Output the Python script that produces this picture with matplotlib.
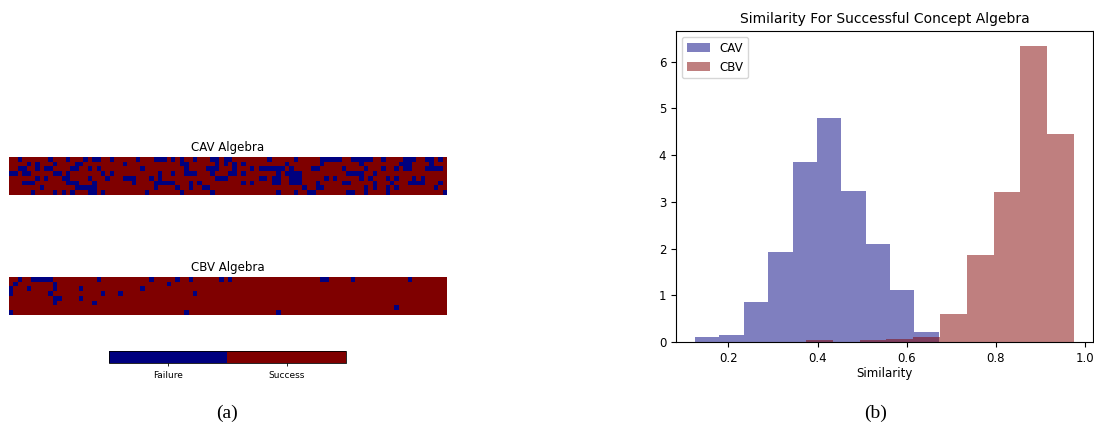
import numpy as np
import matplotlib
matplotlib.use("Agg")
import matplotlib.pyplot as plt
from matplotlib.colors import ListedColormap

# grid size of the success/failure maps
N_ROWS = 8
N_COLS = 100

# failure positions (column indices) per row
cav_failures = [
    [2, 9, 13, 17, 19, 20, 23, 29, 33, 34, 35, 37, 39, 42, 46, 47, 49, 50, 59, 65, 71, 72, 73, 74, 75,
     78, 79, 80, 81, 82, 85, 90, 91, 92, 95, 96, 98],
    [4, 6, 10, 15, 16, 26, 39, 40, 47, 49, 51, 53, 63, 71, 80, 89, 90, 91, 96],
    [2, 3, 6, 8, 9, 14, 15, 18, 20, 30, 40, 45, 46, 47, 51, 55, 57, 58, 59, 60, 61, 62, 64, 69, 70,
     76, 81, 85, 88, 90, 91, 95, 96, 97, 98],
    [0, 1, 3, 4, 10, 11, 13, 21, 23, 34, 37, 40, 41, 42, 46, 50, 51, 53, 61, 63, 64, 65, 66, 77, 78,
     79, 80, 83],
    [6, 8, 12, 13, 18, 22, 26, 27, 28, 32, 34, 47, 48, 49, 57, 58, 60, 61, 64, 65, 66, 72, 74, 80, 82,
     86, 88, 92, 94],
    [3, 4, 5, 13, 14, 15, 19, 28, 33, 34, 35, 36, 37, 41, 43, 53, 55, 60, 61, 64, 65, 66, 70, 76, 77,
     83, 87, 91, 92, 93, 94, 98],
    [7, 15, 16, 17, 18, 19, 33, 38, 41, 44, 45, 67, 70, 71, 81, 83, 86, 88, 97],
    [5, 10, 12, 14, 18, 19, 21, 31, 39, 46, 61, 65, 68, 69, 77, 78, 81, 86, 99],
]
cbv_failures = [
    [2, 5, 6, 7, 8, 9, 20, 32, 38, 41, 48, 50, 71, 72, 78, 91],
    [1, 10, 36],
    [0, 4, 10, 16, 30],
    [0, 9, 21, 25, 42],
    [10, 11, 16],
    [10, 19],
    [88],
    [0, 40, 61],
]

# histogram (density) values for the right panel
cav_edges = np.linspace(0.125, 0.672, 11)
cav_density = [0.10, 0.14, 0.86, 1.93, 3.86, 4.80, 3.24, 2.10, 1.11, 0.21]
cbv_edges = np.linspace(0.374, 0.9755, 11)
cbv_density = [0.036, 0.0, 0.04, 0.065, 0.10, 0.59, 1.86, 3.21, 6.34, 4.45]

status_labels = ["Failure", "Success"]


def build_grid(failures):
    grid = np.ones((N_ROWS, N_COLS))
    for r, cols in enumerate(failures):
        grid[r, cols] = 0
    return grid


cmap = ListedColormap(["#00007f", "#7f0000"])

fig = plt.figure(figsize=(10.94, 4.23), dpi=100)

# left panel: success maps
ax_cav = fig.add_axes([0.0082, 0.539, 0.3995, 0.0898])
ax_cbv = fig.add_axes([0.0082, 0.2553, 0.3995, 0.0898])
for ax, fails, title in [(ax_cav, cav_failures, "CAV Algebra"),
                         (ax_cbv, cbv_failures, "CBV Algebra")]:
    im = ax.imshow(build_grid(fails), cmap=cmap, vmin=0, vmax=1,
                   aspect="auto", interpolation="nearest")
    ax.set_title(title, fontsize=8.5, pad=4)
    ax.axis("off")

cax = fig.add_axes([0.0996, 0.1418, 0.2166, 0.0284])
cb = fig.colorbar(im, cax=cax, orientation="horizontal")
cb.set_ticks([0.25, 0.75])
cb.set_ticklabels(status_labels)
cb.ax.tick_params(labelsize=6.5, length=2, width=0.6)
cb.outline.set_linewidth(0.6)

# right panel: similarity histograms
ax_h = fig.add_axes([0.618, 0.1915, 0.381, 0.735])
ax_h.hist(cav_edges[:-1], bins=cav_edges, weights=cav_density,
          color="#000080", alpha=0.5, label="CAV")
ax_h.hist(cbv_edges[:-1], bins=cbv_edges, weights=cbv_density,
          color="#800000", alpha=0.5, label="CBV")
ax_h.set_title("Similarity For Successful Concept Algebra", fontsize=10)
ax_h.set_xlabel("Similarity", fontsize=8.5, labelpad=2)
ax_h.tick_params(labelsize=8.5)
ax_h.legend(loc="upper left", fontsize=8.5)

# sub-figure captions
fig.text(0.2075, 0.012, "(a)", fontsize=14, family="Liberation Serif", ha="center")
fig.text(0.8005, 0.012, "(b)", fontsize=14, family="Liberation Serif", ha="center")

fig.savefig("out.png", dpi=100)
